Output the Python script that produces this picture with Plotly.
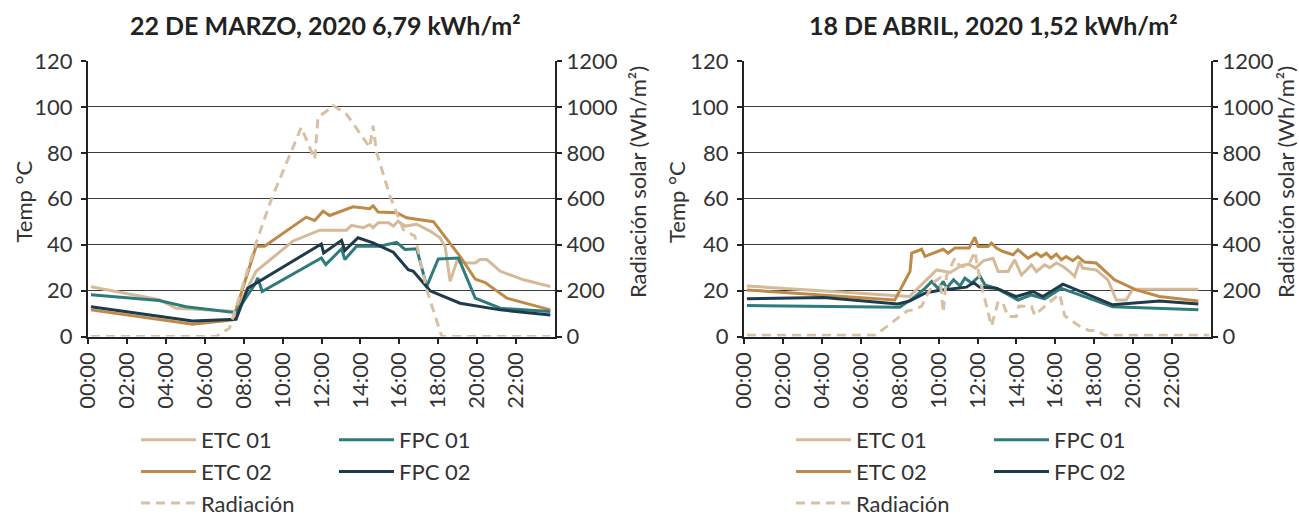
import plotly.graph_objects as go

# ---------------- data: 22 de marzo (left) ----------------
m_etc01_t = [0.15, 3.66, 4.52, 7.6, 8.64, 10.52, 11.91, 13.28, 13.54, 14.14, 14.48, 14.65, 14.91, 15.44, 15.69, 15.94, 16.29, 16.89, 17.58, 18.09, 18.35, 18.61, 18.95, 19.47, 19.9, 20.15, 20.5, 21.19, 22.39, 23.76]
m_etc01_v = [21.7, 16.0, 12.3, 10.9, 28.4, 41.5, 46.3, 46.3, 48.4, 47.4, 48.7, 47.4, 49.5, 49.5, 48.1, 50.2, 48.1, 48.9, 45.9, 43.0, 39.3, 24.0, 32.7, 32.0, 32.0, 33.5, 33.5, 28.4, 24.7, 21.8]

m_etc02_t = [0.15, 5.38, 7.44, 8.64, 9.07, 11.22, 11.65, 12.08, 12.42, 13.62, 14.48, 14.65, 14.91, 15.86, 16.38, 17.75, 19.12, 19.9, 20.41, 21.53, 23.76]
m_etc02_v = [11.6, 5.3, 7.2, 39.3, 39.3, 52.0, 50.5, 54.6, 52.7, 56.5, 55.7, 56.9, 54.2, 53.9, 51.7, 50.0, 34.9, 25.0, 23.5, 16.7, 11.6]

m_fpc01_t = [0.15, 3.66, 5.04, 7.61, 8.56, 8.73, 8.95, 11.99, 12.22, 13.03, 13.2, 13.8, 15.0, 15.86, 16.29, 16.89, 17.41, 18.0, 19.04, 19.9, 21.19, 23.76]
m_fpc01_v = [18.2, 15.7, 13.0, 10.4, 22.5, 25.5, 19.6, 34.2, 31.3, 38.2, 33.5, 39.3, 39.3, 41.0, 37.9, 38.2, 21.8, 33.8, 34.2, 16.7, 12.3, 10.9]

m_fpc02_t = [0.15, 5.38, 7.61, 8.21, 11.99, 12.11, 13.03, 13.2, 13.88, 14.65, 15.69, 16.46, 16.72, 17.58, 19.12, 21.19, 23.76]
m_fpc02_v = [13.0, 6.8, 7.5, 21.0, 40.3, 36.4, 41.9, 37.5, 43.0, 40.8, 36.7, 29.1, 28.4, 19.9, 14.5, 11.6, 9.4]

m_rad_t = [0.15, 6.58, 7.27, 8.64, 9.42, 10.36, 10.96, 11.65, 11.82, 12.42, 12.59, 13.28, 14.48, 14.65, 14.83, 15.52, 16.2, 16.8, 17.41, 18.18, 23.76]
m_rad_v = [0, 0, 36, 408, 597, 794, 911, 772, 955, 991, 1006, 969, 824, 918, 802, 612, 466, 437, 203, 0, 0]

# ---------------- data: 18 de abril (right) ----------------
a_etc01_t = [0.15, 8.5, 9.9, 10.6, 11.2, 11.55, 11.9, 12.3, 12.8, 13.06, 13.57, 13.91, 14.26, 14.77, 15.03, 15.45, 15.71, 16.05, 16.4, 16.73, 16.99, 17.25, 17.4, 18.1, 18.7, 19.13, 19.64, 19.98, 23.35]
a_etc01_v = [22.0, 17.4, 29.0, 27.9, 31.0, 31.5, 29.8, 33.0, 34.1, 28.3, 28.3, 33.4, 26.8, 31.2, 28.3, 31.2, 30.0, 32.0, 30.5, 28.3, 26.1, 32.7, 29.8, 29.0, 24.7, 15.9, 15.9, 20.6, 20.6]

a_etc02_t = [0.15, 7.75, 8.53, 8.62, 9.13, 9.3, 10.24, 10.49, 10.84, 11.57, 11.86, 12.03, 12.54, 12.72, 12.97, 13.31, 13.83, 14.08, 14.59, 15.03, 15.28, 15.54, 15.79, 16.05, 16.31, 16.56, 16.9, 17.16, 17.5, 18.1, 19.04, 20.15, 21.35, 23.35]
a_etc02_v = [20.3, 15.9, 28.3, 36.3, 38.0, 34.9, 38.0, 36.3, 38.5, 38.5, 43.2, 39.2, 39.2, 40.7, 38.5, 37.0, 35.6, 37.8, 34.1, 36.3, 34.8, 36.3, 34.1, 35.9, 33.4, 34.8, 33.0, 34.8, 32.4, 32.0, 24.7, 20.3, 17.4, 15.5]

a_fpc01_t = [0.15, 8.0, 8.65, 9.3, 9.65, 9.99, 10.24, 10.41, 10.77, 11.1, 11.35, 11.7, 12.12, 12.38, 12.97, 14.08, 14.77, 15.45, 16.31, 18.95, 23.35]
a_fpc01_v = [13.5, 12.7, 16.5, 21.0, 24.0, 20.8, 24.0, 21.0, 24.7, 22.0, 25.4, 23.3, 26.4, 22.5, 21.0, 15.9, 18.1, 16.4, 21.0, 13.0, 11.6]

a_fpc02_t = [0.15, 4.1, 7.9, 8.53, 9.3, 9.99, 11.43, 11.8, 12.1, 12.97, 13.99, 14.85, 15.36, 16.39, 18.95, 21.35, 23.35]
a_fpc02_v = [16.4, 17.0, 14.2, 15.5, 18.9, 20.0, 21.5, 23.5, 21.5, 21.0, 17.4, 19.6, 17.4, 22.8, 13.8, 15.5, 14.2]

a_rad_t = [0.15, 6.73, 7.33, 7.67, 8.36, 8.78, 9.13, 9.47, 9.81, 10.07, 10.24, 10.41, 10.84, 11.09, 11.26, 11.6, 11.86, 12.12, 12.72, 13.06, 13.31, 13.57, 14.0, 14.12, 14.77, 14.94, 15.54, 16.22, 16.48, 17.33, 17.76, 18.1, 18.53, 23.9]
a_rad_v = [5, 5, 43, 65, 110, 118, 132, 190, 240, 255, 105, 265, 342, 305, 305, 320, 370, 250, 45, 152, 145, 87, 87, 132, 132, 92, 138, 185, 90, 40, 25, 28, 5, 5]

# ---------------- labels ----------------
hour_ticks = [0, 2, 4, 6, 8, 10, 12, 14, 16, 18, 20, 22]
hour_labels = ["00:00", "02:00", "04:00", "06:00", "08:00", "10:00", "12:00", "14:00", "16:00", "18:00", "20:00", "22:00"]
title_left = "22 DE MARZO, 2020 6,79 kWh/m²"
title_right = "18 DE ABRIL, 2020 1,52 kWh/m²"
ytitle_temp = "Temp °C"
ytitle_rad = "Radiación solar (Wh/m²)"
names = ["ETC 01", "ETC 02", "FPC 01", "FPC 02", "Radiación"]

# ---------------- styles ----------------
C_ETC01 = "#d4ba98"
C_ETC02 = "#bf8a47"
C_FPC01 = "#2f7b7c"
C_FPC02 = "#1d3b4a"
C_RAD = "#d8c0a4"
FONT = "Lato"
TXT = "#333333"
W, H = 1299, 516

fig = go.Figure()

def add_set(suffix, xa, ya_t, ya_r, leg1, leg2, data):
    (e1t, e1v), (e2t, e2v), (f1t, f1v), (f2t, f2v), (rt, rv) = data
    fig.add_trace(go.Scatter(x=rt, y=rv, name=names[4], xaxis=xa, yaxis=ya_r, mode="lines",
                             line=dict(color=C_RAD, width=3, dash="9px,6px"),
                             legend=leg1, legendrank=3, legendgroup="rad" + suffix))
    fig.add_trace(go.Scatter(x=e1t, y=e1v, name=names[0], xaxis=xa, yaxis=ya_t, mode="lines",
                             line=dict(color=C_ETC01, width=3), legend=leg1, legendrank=1,
                             legendgroup="e1" + suffix))
    fig.add_trace(go.Scatter(x=e2t, y=e2v, name=names[1], xaxis=xa, yaxis=ya_t, mode="lines",
                             line=dict(color=C_ETC02, width=3), legend=leg1, legendrank=2,
                             legendgroup="e2" + suffix))
    fig.add_trace(go.Scatter(x=f1t, y=f1v, name=names[2], xaxis=xa, yaxis=ya_t, mode="lines",
                             line=dict(color=C_FPC01, width=3), legend=leg2, legendrank=1,
                             legendgroup="f1" + suffix))
    fig.add_trace(go.Scatter(x=f2t, y=f2v, name=names[3], xaxis=xa, yaxis=ya_t, mode="lines",
                             line=dict(color=C_FPC02, width=3), legend=leg2, legendrank=2,
                             legendgroup="f2" + suffix))

add_set("L", "x", "y", "y2", "legend", "legend2",
        [(m_etc01_t, m_etc01_v), (m_etc02_t, m_etc02_v), (m_fpc01_t, m_fpc01_v),
         (m_fpc02_t, m_fpc02_v), (m_rad_t, m_rad_v)])
add_set("R", "x2", "y3", "y4", "legend3", "legend4",
        [(a_etc01_t, a_etc01_v), (a_etc02_t, a_etc02_v), (a_fpc01_t, a_fpc01_v),
         (a_fpc02_t, a_fpc02_v), (a_rad_t, a_rad_v)])

tickfont = dict(family=FONT, size=22, color=TXT)
ydom = [(H - 336.5) / H, (H - 61) / H]
xdomL = [88 / W, 555 / W]
xdomR = [744 / W, 1211 / W]

def xaxis(dom, anchor):
    return dict(domain=dom, anchor=anchor, range=[0, 24], tickvals=hour_ticks, ticktext=hour_labels,
                tickangle=-90, ticks="outside", ticklen=5, tickwidth=2, tickcolor="#222",
                showline=True, linecolor="#222", linewidth=2, showgrid=False, zeroline=False,
                tickfont=tickfont, automargin=False, fixedrange=True)

def ytemp(anchor):
    return dict(domain=ydom, anchor=anchor, range=[0, 120], dtick=20, tick0=0,
                ticks="outside", ticklen=5, tickwidth=2, tickcolor="#222",
                showline=True, linecolor="#222", linewidth=2,
                showgrid=True, gridcolor="#3c3c3c", gridwidth=1, zeroline=False,
                tickfont=tickfont, automargin=False, ticklabelstandoff=4)

def yrad(overlay, anchor):
    return dict(overlaying=overlay, anchor=anchor, side="right", range=[0, 1200], dtick=200, tick0=0,
                ticks="outside", ticklen=5, tickwidth=2, tickcolor="#222",
                showline=True, linecolor="#222", linewidth=2, showgrid=False, zeroline=False,
                tickfont=tickfont, automargin=False)

legfont = dict(family=FONT, size=22, color=TXT)

def legend(xpx):
    return dict(x=xpx / W, xanchor="left", y=(H - 419) / H, yanchor="top", orientation="v",
                font=legfont, bgcolor="rgba(0,0,0,0)", itemwidth=55, tracegroupgap=0,
                traceorder="grouped")

fig.update_layout(
    width=W, height=H, margin=dict(l=0, r=0, t=0, b=0, pad=0, autoexpand=False),
    paper_bgcolor="white", plot_bgcolor="white",
    font=dict(family=FONT, color=TXT),
    xaxis=xaxis(xdomL, "y"),
    yaxis=ytemp("x"),
    yaxis2=yrad("y", "x"),
    xaxis2=xaxis(xdomR, "y3"),
    yaxis3=ytemp("x2"),
    yaxis4=yrad("y3", "x2"),
    legend=legend(136),
    legend2=legend(334),
    legend3=legend(791),
    legend4=legend(989),
)

ann = [
    dict(text=title_left, x=325 / W, y=(H - 25) / H, bold=True),
    dict(text=title_right, x=993 / W, y=(H - 25) / H, bold=True),
    dict(text=ytitle_temp, x=22.5 / W, y=(H - 202) / H, angle=-90),
    dict(text=ytitle_rad, x=638 / W, y=(H - 182) / H, angle=-90),
    dict(text=ytitle_temp, x=676 / W, y=(H - 202) / H, angle=-90),
    dict(text=ytitle_rad, x=1286 / W, y=(H - 182) / H, angle=-90),
]
for a in ann:
    fig.add_annotation(text=a["text"], x=a["x"], y=a["y"], xref="paper", yref="paper",
                       xanchor="center", yanchor="middle", showarrow=False,
                       textangle=a.get("angle", 0),
                       font=dict(family=FONT, size=25 if a.get("bold") else 22,
                                 color="#222" if a.get("bold") else TXT,
                                 weight=700 if a.get("bold") else 400))

fig.write_html("out.html", config={"displayModeBar": False},
               post_script="document.body.style.margin='0px';")
